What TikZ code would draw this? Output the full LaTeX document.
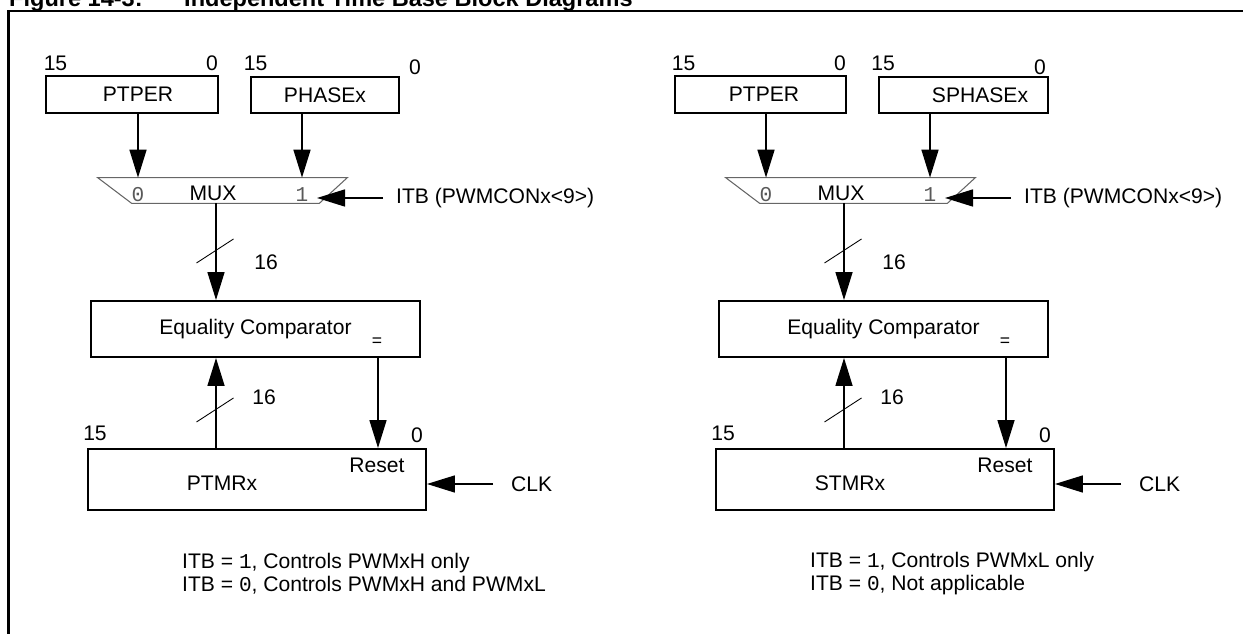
\documentclass[tikz,border=0pt]{standalone}
\usepackage{fontspec}
\setmainfont{Liberation Sans}
\setmonofont{Liberation Mono}
\usepackage{tikz}
\usetikzlibrary{arrows.meta}
\usetikzlibrary{positioning}
\tikzset{>=latex}
\tikzstyle{reg} = [rectangle, draw=black, line width=1.1pt, inner sep=0]
\tikzstyle{sig} = [-{Triangle[length=5.6mm, width=3.4mm]}, line width=0.9pt]
\tikzstyle{tick} = [line width=0.5pt]
\tikzstyle{bit} = [font=\ttfamily\fontsize{12}{13}\selectfont, text=black!65]
\tikzstyle{muxline} = [draw=black!60, line width=0.6pt]

\begin{document}
\begin{tikzpicture}[font=\fontsize{12}{13}\selectfont]
\useasboundingbox (0,0) rectangle (24.86,12.68);
%\node [draw=none, font=\bfseries] at (0,13) {full caption};
\node [anchor=base west, font=\bfseries\fontsize{13.4}{16}\selectfont] (F) at (0.06, 12.55) {Figure 14-3:};
\node [anchor=base west, font=\bfseries\fontsize{13.4}{16}\selectfont] (T) at (3.56, 12.55) {Independent Time Base Block Diagrams};
\draw [line width=1.3pt] (0.17,0) -- (0.17,12.46) -- (24.86,12.46);

% primary time base
\node [reg, minimum width=3.44cm, minimum height=0.74cm] (P1) at (2.64, 10.79) {\hspace*{0.24cm}PTPER};
\node (P1a) at (1.11, 11.42) {15};
\node (P1b) at (4.24, 11.42) {0};
\node [reg, minimum width=2.96cm, minimum height=0.72cm] (X1) at (6.50, 10.78) {PHASEx};
\node (X1a) at (5.11, 11.42) {15};
\node (X1b) at (8.30, 11.34) {0};
\node [minimum width=4.98cm, minimum height=0.5cm, inner sep=0] (M1) at (4.45, 8.87) {};
\draw [muxline] (M1.north west) -- (M1.north east) -- ([xshift=-0.56cm]M1.south east) -- ([xshift=0.68cm]M1.south west) -- cycle;
\node [bit] (Z1) at (2.76, 8.78) {0};
\node (U1) at (4.26, 8.82) {MUX};
\node [bit] (O1) at (6.04, 8.78) {1};
\draw [sig] (P1.south -| Z1) -- (M1.north -| Z1);
\draw [sig] (X1.south -| O1) -- (M1.north -| O1);
\node [anchor=west] (I1) at (7.80, 8.72) {ITB (PWMCONx<9>)};
\coordinate (J1) at (6.34, 8.72);
\draw [sig] ([xshift=-0.14cm]I1.west) -- (J1);
\coordinate (B1) at (4.32, 6.10);
\node [reg, minimum width=6.58cm, minimum height=1.12cm] (E1) at (5.11, 6.10) {Equality Comparator};
\node [font=\fontsize{10}{12}\selectfont] (Q1) at (7.54, 5.84) {=};
\draw [sig] (M1.south -| B1) -- (E1.north -| B1);
\coordinate (S1) at (4.30, 7.66);
\draw [tick] (S1) +(-0.37,-0.24) -- +(0.37,0.24);
\node (N1) at (5.32, 7.44) {16};
\node [reg, minimum width=6.76cm, minimum height=1.22cm] (R1) at (5.14, 3.09) {};
\node (R1t) at (4.44, 3.02) {PTMRx};
\node (R1r) at (7.54, 3.38) {Reset};
\node (R1a) at (1.90, 4.02) {15};
\node (R1b) at (8.34, 3.98) {0};
\draw [sig] (R1.north -| B1) -- (E1.south -| B1);
\coordinate (S2) at (4.30, 4.48);
\draw [tick] (S2) +(-0.37,-0.24) -- +(0.37,0.24);
\node (N2) at (5.28, 4.74) {16};
\coordinate (D1) at (7.56, 3.00);
\draw [sig] (E1.south -| D1) -- (R1.north -| D1);
\node [anchor=west] (C1) at (10.10, 3.00) {CLK};
\draw [sig] ([xshift=-0.24cm]C1.west) -- (R1.east |- C1.west);
\node [anchor=west, align=left] (L1) at (3.52, 1.21) {ITB = \texttt{1}, Controls PWMxH only\\ITB = \texttt{0}, Controls PWMxH and PWMxL};

% secondary time base
\begin{scope}[xshift=12.56cm]
\node [reg, minimum width=3.42cm, minimum height=0.74cm] (P2) at (2.65, 10.79) {\hspace*{0.14cm}PTPER};
\node (P2a) at (1.11, 11.42) {15};
\node (P2b) at (4.24, 11.42) {0};
\node [reg, minimum width=3.38cm, minimum height=0.72cm] (X2) at (6.71, 10.78) {\hspace*{0.66cm}SPHASEx};
\node (X2a) at (5.10, 11.42) {15};
\node (X2b) at (8.24, 11.34) {0};
\node [minimum width=4.98cm, minimum height=0.5cm, inner sep=0] (M2) at (4.45, 8.87) {};
\draw [muxline] (M2.north west) -- (M2.north east) -- ([xshift=-0.56cm]M2.south east) -- ([xshift=0.68cm]M2.south west) -- cycle;
\node [bit] (Z2) at (2.76, 8.78) {0};
\node (U2) at (4.26, 8.82) {MUX};
\node [bit] (O2) at (6.04, 8.78) {1};
\draw [sig] (P2.south -| Z2) -- (M2.north -| Z2);
\draw [sig] (X2.south -| O2) -- (M2.north -| O2);
\node [anchor=west] (I2) at (7.80, 8.72) {ITB (PWMCONx<9>)};
\coordinate (J2) at (6.34, 8.72);
\draw [sig] ([xshift=-0.14cm]I2.west) -- (J2);
\coordinate (B2) at (4.32, 6.10);
\node [reg, minimum width=6.58cm, minimum height=1.12cm] (E2) at (5.11, 6.10) {Equality Comparator};
\node [font=\fontsize{10}{12}\selectfont] (Q2) at (7.54, 5.84) {=};
\draw [sig] (M2.south -| B2) -- (E2.north -| B2);
\coordinate (S3) at (4.30, 7.66);
\draw [tick] (S3) +(-0.37,-0.24) -- +(0.37,0.24);
\node (N3) at (5.32, 7.44) {16};
\node [reg, minimum width=6.76cm, minimum height=1.22cm] (R2) at (5.14, 3.09) {};
\node (R2t) at (4.44, 3.02) {STMRx};
\node (R2r) at (7.54, 3.38) {Reset};
\node (R2a) at (1.90, 4.02) {15};
\node (R2b) at (8.34, 3.98) {0};
\draw [sig] (R2.north -| B2) -- (E2.south -| B2);
\coordinate (S4) at (4.30, 4.48);
\draw [tick] (S4) +(-0.37,-0.24) -- +(0.37,0.24);
\node (N4) at (5.28, 4.74) {16};
\coordinate (D2) at (7.56, 3.00);
\draw [sig] (E2.south -| D2) -- (R2.north -| D2);
\node [anchor=west] (C2) at (10.10, 3.00) {CLK};
\draw [sig] ([xshift=-0.24cm]C2.west) -- (R2.east |- C2.west);
\node [anchor=west, align=left] (L2) at (3.52, 1.21) {ITB = \texttt{1}, Controls PWMxL only\\ITB = \texttt{0}, Not applicable};
\end{scope}
\end{tikzpicture}
\end{document}
